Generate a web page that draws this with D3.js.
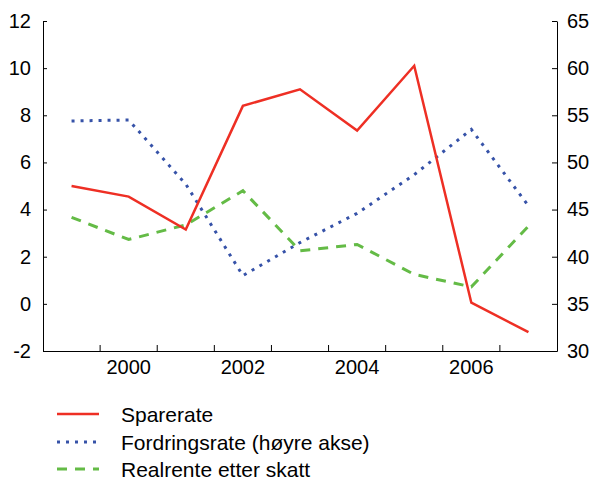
<!DOCTYPE html>
<html>
<head>
<meta charset="utf-8">
<script src="https://cdn.jsdelivr.net/npm/d3@7"></script>
<style>
  html, body { margin: 0; padding: 0; background: #fff; }
  text { font-family: "Liberation Sans", Arial, sans-serif; fill: #000; }
</style>
</head>
<body>
<svg id="chart" width="592" height="481"></svg>
<script>
// Years on the x axis
const years = [1999, 2000, 2001, 2002, 2003, 2004, 2005, 2006, 2007];
const yearLabels = [2000, 2002, 2004, 2006];

// Series (percent)
const sparerate = [5.0, 4.55, 3.15, 8.4, 9.1, 7.35, 10.1, 0.05, -1.2];          // left axis
const fordringsrate = [54.4, 54.5, 47.7, 38.0, 41.5, 44.6, 48.7, 53.5, 45.4];  // right axis
const realrente = [3.67, 2.73, 3.35, 4.8, 2.25, 2.52, 1.25, 0.72, 3.3];        // left axis

const leftTicks = [-2, 0, 2, 4, 6, 8, 10, 12];
const rightTicks = [30, 35, 40, 45, 50, 55, 60, 65];

const seriesNames = ["Sparerate", "Fordringsrate (høyre akse)", "Realrente etter skatt"];

const svg = d3.select("#chart");
const plotLeft = 43, plotRight = 557, plotTop = 21, plotBottom = 351;
const tickFont = "20px";

const x = d3.scaleBand().domain(years).range([plotLeft, plotRight]).padding(0);
const xc = d => x(d) + x.bandwidth() / 2;
const yL = d3.scaleLinear().domain([-2, 12]).range([plotBottom, plotTop]);
const yR = d3.scaleLinear().domain([30, 65]).range([plotBottom, plotTop]);

// Axes with inward ticks
const axisL = svg.append("g").attr("transform", `translate(${plotLeft},0)`)
  .call(d3.axisLeft(yL).tickValues(leftTicks).tickSizeInner(-4).tickSizeOuter(0).tickPadding(12)
    .tickFormat(d => d < 0 ? "-" + Math.abs(d) : d));
const axisR = svg.append("g").attr("transform", `translate(${plotRight},0)`)
  .call(d3.axisRight(yR).tickValues(rightTicks).tickSizeInner(-5).tickSizeOuter(0).tickPadding(10));
const axisB = svg.append("g").attr("transform", `translate(0,${plotBottom})`)
  .call(d3.axisBottom(x).tickValues([]).tickSizeOuter(0));

// Year-boundary ticks on the bottom axis
const boundaries = years.slice(1).map(y => x(y));
axisB.selectAll("line.bound").data(boundaries).enter().append("line")
  .attr("class", "bound")
  .attr("x1", d => d).attr("x2", d => d).attr("y1", 0).attr("y2", -6)
  .attr("stroke", "#000");
axisB.selectAll("text.yl").data(yearLabels).enter().append("text")
  .attr("class", "yl")
  .attr("x", d => xc(d)).attr("y", 22.5)
  .attr("text-anchor", "middle")
  .style("font-size", tickFont)
  .text(d => d);

[axisL, axisR, axisB].forEach(g => {
  g.selectAll(".domain").attr("stroke", "#000").attr("stroke-width", 1);
  g.selectAll(".tick line").attr("stroke", "#000");
  g.selectAll(".tick text").style("font-size", tickFont).attr("fill", "#000")
    .style("font-family", '"Liberation Sans", Arial, sans-serif');
});

const styles = [
  { color: "#ee2f24", dash: null, width: 2.5 },
  { color: "#3652a8", dash: "3,6", width: 3 },
  { color: "#64bb46", dash: "10,8", width: 3 }
];

const lineL = d3.line().x((d, i) => xc(years[i])).y(d => yL(d));
const lineR = d3.line().x((d, i) => xc(years[i])).y(d => yR(d));

const paths = [
  { data: realrente, gen: lineL, s: styles[2] },
  { data: fordringsrate, gen: lineR, s: styles[1] },
  { data: sparerate, gen: lineL, s: styles[0] }
];
paths.forEach(p => {
  svg.append("path")
    .attr("d", p.gen(p.data))
    .attr("fill", "none")
    .attr("stroke", p.s.color)
    .attr("stroke-width", p.s.width)
    .attr("stroke-dasharray", p.s.dash)
    .attr("stroke-linejoin", "miter");
});

// Legend
const legend = svg.append("g");
const legendLineY = [414, 442, 469];
const legendTextY = [422, 450, 477];
seriesNames.forEach((name, i) => {
  const s = styles[i];
  legend.append("line")
    .attr("x1", 57).attr("x2", 99).attr("y1", legendLineY[i]).attr("y2", legendLineY[i])
    .attr("stroke", s.color).attr("stroke-width", s.width)
    .attr("stroke-dasharray", s.dash);
  legend.append("text")
    .attr("x", 121).attr("y", legendTextY[i])
    .style("font-size", "21px")
    .text(name);
});
</script>
</body>
</html>
